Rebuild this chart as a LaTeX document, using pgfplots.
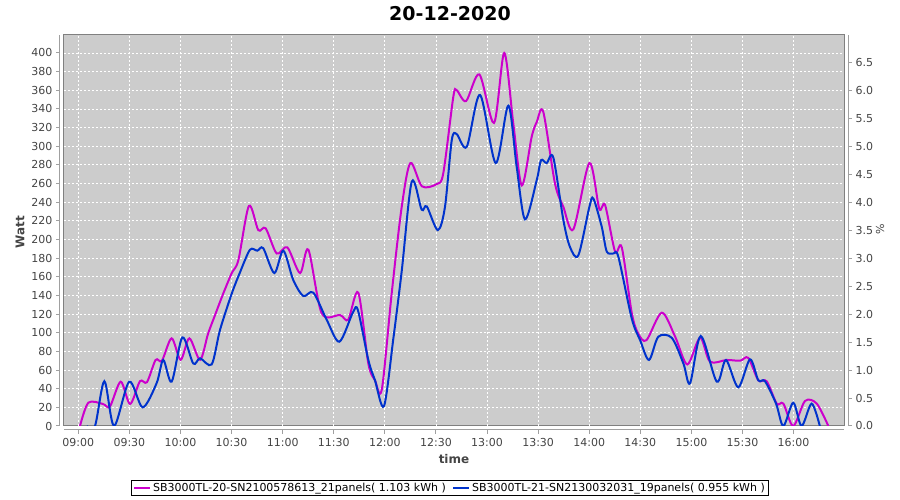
\documentclass[border=0pt]{standalone}
\usepackage{fontspec}
\setmainfont{DejaVu Sans}
\usepackage{pgfplots}
\usepackage{pgfplotstable}
\pgfplotsset{compat=1.18}

\definecolor{sbmag}{RGB}{204,0,204}
\definecolor{sbblue}{RGB}{0,51,204}
\definecolor{plotbg}{RGB}{204,204,204}
\definecolor{framegray}{RGB}{128,128,128}
\definecolor{axisgray}{RGB}{160,160,160}
\definecolor{ticklab}{RGB}{68,68,68}

% minutes after 09:00, watt
\pgfplotstableread{
t w
1.0 0
5.9 25
14.5 23.6
18.6 21
24.9 47.5
30.4 23.6
36.2 48
40.3 47
45.4 70.8
49.1 70
54.8 94
60.1 71
65.2 94
71.5 71
76.2 99
80.3 119
85.1 142
90.1 164
94.0 178
100.2 236
105.7 210
110.0 212
116.5 185
122.7 191.6
130.2 164
135.1 189
142.9 121
153.7 119
158.5 114
164.4 143
170.3 67
174.2 49
178.2 39
184.0 142
189.9 235
195.0 282
201.8 257
210.5 259.5
214.3 271
220.2 353
222.2 360
227.7 348.5
235.5 377
244.1 325
250.1 400
255.4 324.6
260.4 258
266.2 310
269.2 326
273.0 337
279.9 260
284.8 235
290.7 211
300.1 282
305.9 233
309.3 237
315.2 187
319.1 191.6
325.0 121
328.8 99
333.6 92
342.6 121.5
350.4 96
357.6 66
365.1 94.7
370.9 69
380.7 70.8
388.6 70
393.4 73
399.3 49
404.2 48
410.1 24
414.0 24
419.8 0
426.7 26.8
433.6 24
440.4 0
}\sbtwenty

\pgfplotstableread{
t w
4.9 0
9.8 0
15.3 48
21.0 0
29.9 47.5
37.8 20
46.0 46
49.9 70.8
54.8 47.5
61.1 95
67.5 67
71.5 72.6
78.3 66
83.2 103
90.1 142
95.0 165
100.8 189
105.1 188
108.6 190.6
115.1 164
120.4 188
126.2 156.6
132.1 139.4
138.0 143
145.9 113.7
153.3 90.4
161.3 122
164.2 124
170.3 70.8
174.2 49
179.5 21.4
185.0 94
189.9 166
195.8 262
201.6 232
204.6 235.5
211.1 210
215.3 235
219.3 306.7
222.2 313
228.1 299.5
235.9 355
245.1 282
252.5 343.5
257.4 278
262.3 221.6
269.2 263.8
271.7 285
275.0 282
278.9 288
284.8 221
288.7 192
293.6 183
300.1 235
302.4 244
307.3 214
310.3 187
314.2 185
317.1 181.5
325.0 115
329.9 92
335.1 70.8
340.6 95.8
348.5 94.5
355.3 67
359.2 45.8
365.5 96.5
374.9 47.5
380.3 70.8
387.5 41.5
394.4 71.5
399.3 49
403.2 48
409.7 24
414.0 0
419.8 25
424.7 0
430.6 24
435.4 0
}\sbtwentyone

\begin{document}
\begin{tikzpicture}
\useasboundingbox (0pt,0pt) rectangle (900pt,500pt);
\begin{axis}[
    at={(64pt,74pt)}, anchor=south west,
    width=780pt, height=391pt, scale only axis,
    xmin=-8.4, xmax=449.6,
    ymin=0, ymax=419.3,
    separate axis lines,
    axis x line*=bottom, axis y line*=left,
    axis x line shift=4pt, axis y line shift=4pt,
    axis line style={axisgray, line width=1pt},
    axis background/.style={fill=plotbg, draw=framegray, line width=1pt},
    xtick={0,30,...,420},
    xticklabels={09:00,09:30,10:00,10:30,11:00,11:30,12:00,12:30,13:00,13:30,14:00,14:30,15:00,15:30,16:00},
    ytick={0,20,...,400},
    tick align=outside, major tick length=4pt,
    tick style={axisgray, line width=1pt},
    grid=major,
    major grid style={white, line width=0.8pt, dash pattern=on 2pt off 2pt},
    /pgf/number format/assume math mode=true,
    tick label style={font=\fontsize{11}{13}\selectfont, text=ticklab},
    xticklabel style={yshift=-1pt},
    legend style={at={(0.4949,-0.1586)}, anchor=center, draw=black, line width=1pt,
        font=\fontsize{11}{13}\selectfont, inner xsep=2pt, inner ysep=1pt,
        /tikz/every even column/.append style={column sep=4pt}},
    legend columns=2,
    legend cell align=left,
    legend image code/.code={\draw[#1, line width=2pt] (0pt,0pt) -- (16pt,0pt);},
]
\addplot[sbmag, line width=2pt, smooth] table[x=t, y=w] {\sbtwenty};
\addlegendentry{SB3000TL-20-SN2100578613\_21panels( 1.103 kWh )}
\addplot[sbblue, line width=2pt, smooth] table[x=t, y=w] {\sbtwentyone};
\addlegendentry{SB3000TL-21-SN2130032031\_19panels( 0.955 kWh )}
\end{axis}
\begin{axis}[
    at={(64pt,74pt)}, anchor=south west,
    width=780pt, height=391pt, scale only axis,
    xmin=-8.4, xmax=449.6,
    ymin=0, ymax=7.0,
    axis x line=none,
    axis y line*=right,
    axis y line shift=4pt,
    axis line style={axisgray, line width=1pt},
    ytick={0,0.5,...,6.5},
    yticklabel style={/pgf/number format/.cd, fixed, fixed zerofill, precision=1},
    tick align=outside, major tick length=4pt,
    tick style={axisgray, line width=1pt},
    /pgf/number format/assume math mode=true,
    tick label style={font=\fontsize{11}{13}\selectfont, text=ticklab},
]
\end{axis}
\node[font=\fontsize{19}{22}\selectfont\bfseries] at (450pt,486pt) {20-12-2020};
\node[font=\fontsize{12}{14}\selectfont\bfseries, text=ticklab, rotate=90] at (20pt,268pt) {Watt};
\node[font=\fontsize{12}{14}\selectfont\bfseries, text=ticklab] at (454pt,41pt) {time};
\node[font=\fontsize{11}{13}\selectfont, text=ticklab, rotate=90] at (880pt,271pt) {\%};
\end{tikzpicture}
\end{document}
